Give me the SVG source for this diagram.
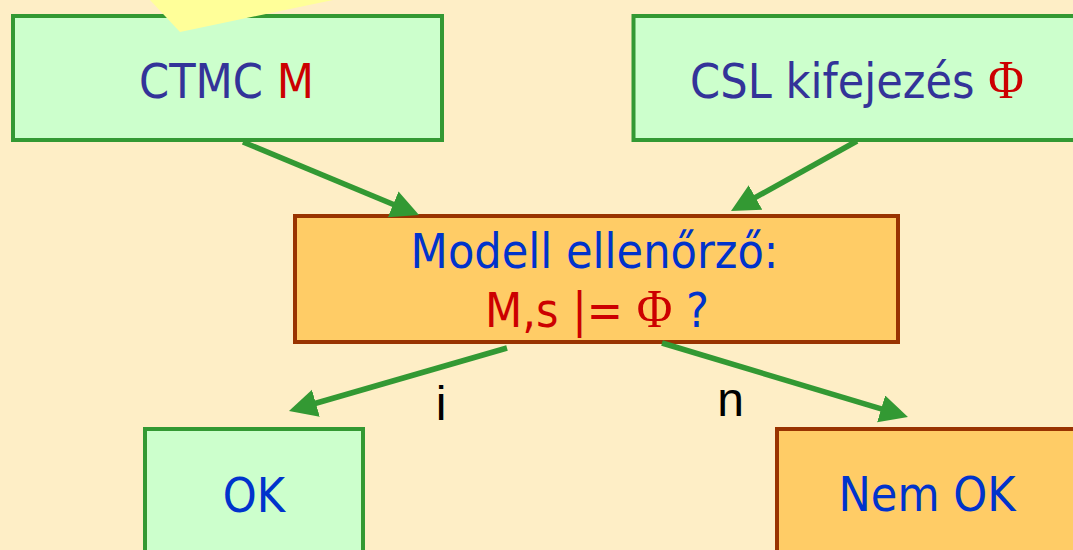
<svg xmlns="http://www.w3.org/2000/svg" width="1073" height="550" viewBox="0 0 1073 550">
  <style>
    .bg { fill: #FEEEC6; }
    .green { fill: #CCFFCC; stroke: #339933; stroke-width: 4; }
    .orange { fill: #FFCC66; stroke: #993300; stroke-width: 4; }
    .note { fill: #FFFF99; }
    .lbl { font-family: "DejaVu Sans", Verdana, sans-serif; font-size: 48px; text-anchor: middle; }
    .sym { font-family: "Liberation Serif", "Times New Roman", serif; font-size: 54px; }
    .slate { fill: #333399; }
    .blue { fill: #0033CC; }
    .red { fill: #CC0000; }
    .edge { font-family: "Liberation Sans", Arial, sans-serif; font-size: 48px; fill: #000000; text-anchor: middle; }
    .conn { stroke: #339933; stroke-width: 5.5; fill: none; marker-end: url(#head); }
  </style>
  <defs>
    <marker id="head" markerUnits="userSpaceOnUse" markerWidth="30" markerHeight="30" refX="1" refY="14" orient="auto">
      <path d="M0,0 L28,14 L0,28 z" fill="#339933"/>
    </marker>
  </defs>

  <rect class="bg" x="0" y="0" width="1073" height="550"/>

  <g id="ctmc">
    <rect class="green" x="13" y="16" width="429" height="124"/>
    <text class="lbl" transform="translate(226.5,98) scale(0.9,1)"><tspan class="slate">CTMC </tspan><tspan class="red">M</tspan></text>
  </g>

  <!-- sticky note corner lying over the CTMC box -->
  <polygon class="note" points="150,0 180,32 333,0"/>

  <g id="csl">
    <rect class="green" x="633.5" y="16" width="470" height="124"/>
    <text class="lbl" transform="translate(857,98) scale(0.9,1)"><tspan class="slate">CSL kifejezés </tspan><tspan class="red sym">Φ</tspan></text>
  </g>

  <g id="checker">
    <rect class="orange" x="295" y="216" width="603" height="126"/>
    <text class="lbl blue" transform="translate(594.5,268) scale(0.9,1)">Modell ellenőrző:</text>
    <text class="lbl" transform="translate(597,327) scale(0.9,1)"><tspan class="red">M,s |= </tspan><tspan class="red sym">Φ</tspan><tspan class="blue"> ?</tspan></text>
  </g>

  <g id="ok">
    <rect class="green" x="145" y="429" width="218" height="200"/>
    <text class="lbl blue" transform="translate(254,512) scale(0.9,1)">OK</text>
  </g>

  <g id="notok">
    <rect class="orange" x="777" y="429" width="400" height="200"/>
    <text class="lbl blue" transform="translate(927,511) scale(0.9,1)">Nem OK</text>
  </g>

  <g id="connectors">
    <path class="conn" d="M243,142 L394.1,204.7"/>
    <path class="conn" d="M857,141 L754.6,197.9"/>
    <path class="conn" d="M507,348 L314.9,403.5"/>
    <path class="conn" d="M662,343 L882.1,409.2"/>
    <text class="edge" x="441" y="420">i</text>
    <text class="edge" x="730.5" y="416">n</text>
  </g>
</svg>
